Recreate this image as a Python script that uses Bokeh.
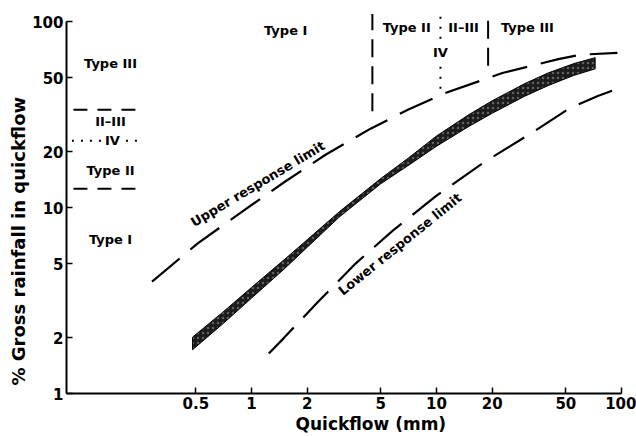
from bokeh.plotting import figure
from bokeh.models import Range1d, FixedTicker, CustomJSTickFormatter, Label, Title
from bokeh.embed import file_html
from bokeh.resources import INLINE

FONT = "DejaVu Sans"

# ---- data ----
x_ticks = [0.5, 1, 2, 5, 10, 20, 50, 100]
y_ticks = [1, 2, 5, 10, 20, 50, 100]

# observed band (% gross rainfall in quickflow vs quickflow, mm)
band_x = [0.48, 0.7, 1.0, 1.5, 2.0, 3.0, 5.0, 7.0, 10.0, 15.0, 20.0, 30.0, 40.0, 55.0, 72.0]
band_lo = [1.72, 2.37, 3.26, 4.67, 6.12, 8.95, 13.45, 16.8, 21.4, 27.4, 32.2, 39.8, 45.3, 51.4, 55.8]
band_hi = [2.01, 2.74, 3.72, 5.24, 6.72, 9.55, 14.35, 18.4, 24.3, 31.7, 37.6, 46.5, 53.0, 59.5, 64.1]

# upper response limit
upper_x = [0.29, 0.51, 0.83, 1.5, 2.5, 4.4, 7.0, 10.9, 22.7, 45.6, 60.0, 95.0]
upper_y = [4.0, 6.4, 9.06, 13.7, 19.2, 26.6, 33.6, 41.0, 53.0, 63.0, 66.5, 68.0]

# lower response limit
lower_x = [1.24, 1.49, 2.27, 3.65, 5.78, 10.0, 18.0, 32.2, 53.0, 75.0, 95.0]
lower_y = [1.64, 1.98, 3.09, 5.0, 7.5, 11.6, 17.5, 25.0, 34.5, 40.0, 43.6]

# response-type boundaries along the top (quickflow, mm)
bound_x = [4.5, 10.5, 19.0]
bound_lo = [33.0, 43.6, 58.0]
bound_hi = [110.0, 110.0, 110.0]
bound_dash = ["18 9", "2 8", "18 9"]

# response-type boundaries in the left key (% gross rainfall)
key_y = [33.6, 22.9, 12.65]
key_x0 = [0.109, 0.107, 0.109]
key_x1 = [0.242, 0.26, 0.245]
key_dash = ["14 10", "2 7", "14 10"]

# labels: text, x, y
top_labels = [("Type I", 1.53, 89.5), ("Type II", 6.9, 93.0), ("II\u2013III", 14.0, 93.0),
              ("Type III", 31.0, 93.0)]
key_labels = [("Type III", 0.173, 59.5), ("II\u2013III", 0.173, 29.0), ("Type II", 0.173, 15.8),
              ("Type I", 0.173, 6.73)]
iv_labels = [("IV", 10.5, 68.0), ("IV", 0.177, 22.9)]

# ---- figure ----
p = figure(width=636, height=436, x_axis_type="log", y_axis_type="log",
           x_range=Range1d(0.1, 110.4), y_range=Range1d(1, 115),
           output_backend="svg", toolbar_location=None,
           min_border_left=66, min_border_right=7, min_border_top=10, min_border_bottom=43)
p.xgrid.visible = False
p.ygrid.visible = False
p.outline_line_color = None
p.background_fill_color = "white"
p.border_fill_color = "white"

p.xaxis.bounds = (0.1, 100)
p.yaxis.bounds = (1, 100)
p.xaxis.ticker = FixedTicker(ticks=x_ticks)
p.yaxis.ticker = FixedTicker(ticks=y_ticks)
for ax in (p.xaxis[0], p.yaxis[0]):
    ax.formatter = CustomJSTickFormatter(code="return tick.toString();")
    ax.axis_line_width = 2
    ax.axis_line_color = "black"
    ax.major_tick_in = 6
    ax.major_tick_out = 0
    ax.major_tick_line_width = 1.5
    ax.minor_tick_line_color = None
    ax.major_label_text_font = FONT
    ax.major_label_text_font_style = "bold"
    ax.major_label_text_font_size = "15px"
    ax.major_label_text_color = "black"
    ax.major_label_standoff = 3

# band
xs = band_x + band_x[::-1]
ys = band_lo + band_hi[::-1]
p.patch(xs, ys, fill_color="#1c1c1c", line_color="black", line_width=1,
        hatch_pattern="dot", hatch_color="white", hatch_alpha=0.3, hatch_scale=5)

# limits
p.line(upper_x, upper_y, line_color="black", line_width=2.2, line_dash="36 14")
p.line(lower_x, lower_y, line_color="black", line_width=2.2, line_dash="36 14")

# boundaries
for bx, b0, b1, d in zip(bound_x, bound_lo, bound_hi, bound_dash):
    p.segment(x0=[bx], y0=[b0], x1=[bx], y1=[b1], line_color="black", line_width=2, line_dash=d)
for ky, k0, k1, d in zip(key_y, key_x0, key_x1, key_dash):
    p.segment(x0=[k0], y0=[ky], x1=[k1], y1=[ky], line_color="black", line_width=2, line_dash=d)


def add_label(text, x, y, size="13px", angle=0.0, align="center", baseline="middle", bg=None):
    lab = Label(x=x, y=y, text=text, angle=angle, text_align=align, text_baseline=baseline,
                text_font=FONT, text_font_style="bold", text_font_size=size, text_color="black")
    if bg:
        lab.background_fill_color = bg
    p.add_layout(lab)


for t, x, y in top_labels + key_labels:
    add_label(t, x, y)
for t, x, y in iv_labels:
    add_label(t, x, y, bg="white")

add_label("Upper response limit", 0.50, 7.6, angle=0.54, align="left", baseline="bottom")
add_label("Lower response limit", 3.2, 3.25, angle=0.68, align="left", baseline="bottom")

# axis titles
p.add_layout(Title(text="Quickflow (mm)", align="left", offset=229, standoff=0,
                   text_font=FONT, text_font_style="bold", text_font_size="17px",
                   text_color="black"), "below")
p.add_layout(Title(text="% Gross rainfall in quickflow", align="left", offset=8, standoff=2,
                   text_font=FONT, text_font_style="bold", text_font_size="18px",
                   text_color="black"), "left")

open("out.html", "w").write(file_html(p, INLINE))
